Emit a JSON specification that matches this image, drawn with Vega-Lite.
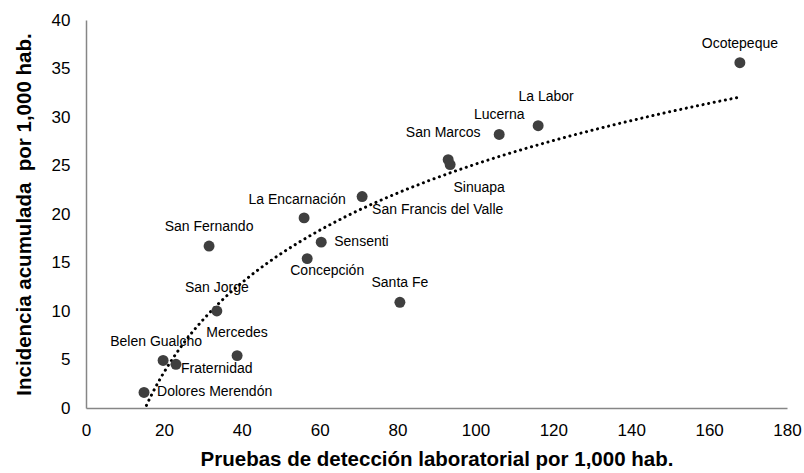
{
  "$schema": "https://vega.github.io/schema/vega-lite/v6.json",
  "width": 701,
  "height": 388,
  "autosize": "none",
  "padding": {"left": 86, "top": 20, "right": 17, "bottom": 65},
  "background": "white",
  "config": {
    "view": {"stroke": null},
    "font": "Liberation Sans",
    "axis": {
      "grid": false,
      "ticks": false,
      "labelFlush": false,
      "domainColor": "#868686",
      "domainWidth": 1.5,
      "labelFont": "Liberation Sans",
      "labelFontSize": 17,
      "labelColor": "#000000",
      "titleFont": "Liberation Sans",
      "titleFontSize": 20.5,
      "titleFontWeight": "bold",
      "titleColor": "#000000"
    }
  },
  "data": {
    "values": [
      {"name": "Ocotepeque", "x": 167.9, "y": 35.6},
      {"name": "La Labor", "x": 116.1, "y": 29.1},
      {"name": "Lucerna", "x": 106.1, "y": 28.2},
      {"name": "San Marcos", "x": 93.0, "y": 25.6},
      {"name": "Sinuapa", "x": 93.5, "y": 25.1},
      {"name": "San Francis del Valle", "x": 70.9, "y": 21.8},
      {"name": "La Encarnación", "x": 56.0, "y": 19.6},
      {"name": "Sensenti", "x": 60.4, "y": 17.1},
      {"name": "Concepción", "x": 56.8, "y": 15.4},
      {"name": "San Fernando", "x": 31.6, "y": 16.7},
      {"name": "Santa Fe", "x": 80.6, "y": 10.9},
      {"name": "San Jorge", "x": 33.6, "y": 10.0},
      {"name": "Mercedes", "x": 38.8, "y": 5.4},
      {"name": "Belen Gualcho", "x": 19.8, "y": 4.9},
      {"name": "Fraternidad", "x": 23.1, "y": 4.5},
      {"name": "Dolores Merendón", "x": 14.9, "y": 1.6}
    ]
  },
  "encoding": {
    "x": {
      "field": "x", "type": "quantitative",
      "scale": {"domain": [0, 180], "nice": false},
      "axis": {"values": [0, 20, 40, 60, 80, 100, 120, 140, 160, 180], "labelPadding": 14, "titlePadding": 11,
               "title": "Pruebas de detección laboratorial por 1,000 hab."}
    },
    "y": {
      "field": "y", "type": "quantitative",
      "scale": {"domain": [0, 40], "nice": false},
      "axis": {"values": [0, 5, 10, 15, 20, 25, 30, 35, 40], "labelPadding": 16, "titlePadding": 17,
               "title": "Incidencia acumulada \u00a0por 1,000 hab."}
    }
  },
  "layer": [
    {
      "transform": [{"regression": "y", "on": "x", "method": "log"}],
      "mark": {"type": "line", "color": "#000000", "strokeWidth": 3, "strokeDash": [0.1, 5.6], "strokeCap": "round", "clip": true},
      "encoding": {}
    },
    {
      "mark": {"type": "circle", "size": 120, "color": "#3f3f3f", "opacity": 1}
    },
    {
      "transform": [{"filter": {"field": "name", "oneOf": ["Ocotepeque", "Lucerna", "San Fernando", "Santa Fe"]}}],
      "mark": {"type": "text", "fontSize": 14, "color": "#000000", "align": "center", "baseline": "middle", "dy": -19},
      "encoding": {"text": {"field": "name"}}
    },
    {
      "transform": [{"filter": {"field": "name", "oneOf": ["La Encarnación", "Belen Gualcho"]}}],
      "mark": {"type": "text", "fontSize": 14, "color": "#000000", "align": "center", "baseline": "middle", "dx": -7, "dy": -18},
      "encoding": {"text": {"field": "name"}}
    },
    {
      "transform": [{"filter": {"field": "name", "oneOf": ["San Jorge", "Mercedes"]}}],
      "mark": {"type": "text", "fontSize": 14, "color": "#000000", "align": "center", "baseline": "middle", "dy": -23},
      "encoding": {"text": {"field": "name"}}
    },
    {
      "transform": [{"filter": {"field": "name", "equal": "La Labor"}}],
      "mark": {"type": "text", "fontSize": 14, "color": "#000000", "align": "center", "baseline": "middle", "dx": 8, "dy": -29},
      "encoding": {"text": {"field": "name"}}
    },
    {
      "transform": [{"filter": {"field": "name", "equal": "San Marcos"}}],
      "mark": {"type": "text", "fontSize": 14, "color": "#000000", "align": "center", "baseline": "middle", "dx": -5, "dy": -27},
      "encoding": {"text": {"field": "name"}}
    },
    {
      "transform": [{"filter": {"field": "name", "oneOf": ["Sensenti", "Dolores Merendón"]}}],
      "mark": {"type": "text", "fontSize": 14, "color": "#000000", "align": "left", "baseline": "middle", "dx": 13},
      "encoding": {"text": {"field": "name"}}
    },
    {
      "transform": [{"filter": {"field": "name", "equal": "San Francis del Valle"}}],
      "mark": {"type": "text", "fontSize": 14, "color": "#000000", "align": "left", "baseline": "middle", "dx": 10, "dy": 13},
      "encoding": {"text": {"field": "name"}}
    },
    {
      "transform": [{"filter": {"field": "name", "equal": "Sinuapa"}}],
      "mark": {"type": "text", "fontSize": 14, "color": "#000000", "align": "center", "baseline": "middle", "dx": 29, "dy": 23},
      "encoding": {"text": {"field": "name"}}
    },
    {
      "transform": [{"filter": {"field": "name", "equal": "Concepción"}}],
      "mark": {"type": "text", "fontSize": 14, "color": "#000000", "align": "center", "baseline": "middle", "dx": 20, "dy": 12},
      "encoding": {"text": {"field": "name"}}
    },
    {
      "transform": [{"filter": {"field": "name", "equal": "Fraternidad"}}],
      "mark": {"type": "text", "fontSize": 14, "color": "#000000", "align": "left", "baseline": "middle", "dx": 5, "dy": 5},
      "encoding": {"text": {"field": "name"}}
    }
  ]
}
